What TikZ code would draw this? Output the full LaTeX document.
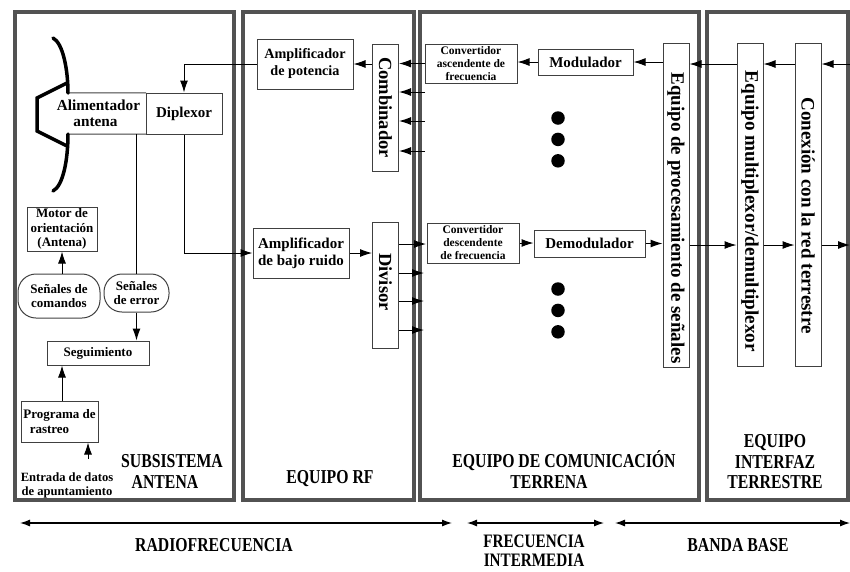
\documentclass[tikz,border=0pt]{standalone}
\usepackage{fontspec}
\setmainfont{Liberation Serif}
\newfontfamily\headfont[FakeStretch=0.8]{Liberation Serif}
\usepackage{tikz}
\usetikzlibrary{positioning, calc, arrows.meta}
\tikzstyle{Arrow} = [
    line width = 1pt,
    -{Latex[length=12pt, width=8pt]}
]
\tikzstyle{Wire} = [
    line width = 1pt
]
\tikzstyle{Span} = [
    line width = 1.2pt,
    {Latex[length=10pt, width=7pt]}-{Latex[length=10pt, width=7pt]}
]

\begin{document}
\begin{tikzpicture}[
x = 1pt, y = -1pt,
frame/.style = {draw = black!68, line width = 4pt},
block/.style = {draw = black!75, line width = 1pt, align = center, inner sep = 0pt, font = \bfseries\fontsize{15}{17}\selectfont},
small/.style = {block, font = \bfseries\fontsize{13}{14.5}\selectfont},
conv/.style = {block, font = \bfseries\fontsize{11.5}{13}\selectfont},
tall/.style = {block, minimum width = 26pt, font = \bfseries\fontsize{18.5}{20}\selectfont},
pill/.style = {small, rounded corners = 18pt},
title/.style = {align = center, inner sep = 0pt, font = \headfont\bfseries\fontsize{19.7}{20.5}\selectfont}, 
dot/.style = {circle, fill = black, minimum size = 13.5pt, inner sep = 0pt}
]
\useasboundingbox (0,0) rectangle (850,571);

% Frames
\draw[frame] (15,12) rectangle (234,500);
\draw[frame] (243,12) rectangle (414,500);
\draw[frame] (420,12) rectangle (699,500);
\draw[frame] (707,12) rectangle (848,500);

% Antenna
\node [align = center, inner sep = 0pt, minimum width = 95pt, minimum height = 41pt, font = \bfseries\fontsize{15.3}{16}\selectfont] (feed) at (98.5,113.5) {Alimentador\\antena\hspace*{6pt}};
\node [block, minimum width = 76pt, minimum height = 41pt] (diplexor) at (184,113.5) {Diplexor};
\coordinate (rimt) at (68,93);
\coordinate (rimb) at (68,134);
\draw[Wire, draw = black!75] (rimt) -- (feed.north east);
\draw[Wire, draw = black!75] (rimb) -- (feed.south east);
\draw[line width = 3.5pt, line cap = round] (53,38) .. controls (63,43) and (68,70) .. (rimt);
\draw[line width = 3.5pt, line cap = round] (rimb) .. controls (68,160) and (63,186) .. (53,191);
\draw[line width = 3.5pt, line join = miter] (67,83) -- (37,98) -- (37,131) -- (67,146);

\node [small, minimum width = 70pt, minimum height = 44pt] (motor) at (62,229) {Motor de\\orientación\\(Antena)};
\node [pill, minimum width = 82pt, minimum height = 44pt] (comandos) at (59,296) {Señales de\\comandos};
\node [pill, minimum width = 65pt, minimum height = 38pt] (error) at (136.5,293) {Señales\\de error};
\node [small, minimum width = 102pt, minimum height = 24pt] (seguimiento) at (98,353) {Seguimiento};
\node [small, minimum width = 77pt, minimum height = 41pt] (programa) at (59.5,421.5) {Programa de\\rastreo\hspace*{20pt}};
\node [align = center, inner sep = 0pt, font = \bfseries\fontsize{12.6}{14}\selectfont] (entrada) at (67,485) {Entrada de datos\\de apuntamiento};
\coordinate (pointing) at (88,459);
\node [title] (antena) at (172,471.5) {SUBSISTEMA\\ANTENA\hspace*{14pt}};

% RF equipment
\node [block, minimum width = 96pt, minimum height = 50pt, font = \bfseries\fontsize{14.2}{17}\selectfont] (potencia) at (305,64) {Amplificador\\de potencia};
\node [tall, minimum height = 127pt] (combinador) at (385.5,107.5) {\rotatebox{-90}{Combinador}};
\node [block, minimum width = 96pt, minimum height = 50pt] (ruido) at (301,253) {Amplificador\\de bajo ruido};
\node [tall, minimum height = 126pt] (divisor) at (385.5,285) {\rotatebox{-90}{Divisor\hspace*{6pt}}};
\node [title] (rf) at (330,479) {EQUIPO RF};

% Communication equipment
\node [conv, minimum width = 92pt, minimum height = 39pt] (ascendente) at (471,63.5) {Convertidor\\ascendente de\\frecuencia};
\node [block, minimum width = 95pt, minimum height = 26pt] (modulador) at (585.5,62) {Modulador};
\node [conv, minimum width = 92pt, minimum height = 40pt] (descendente) at (473,243) {Convertidor\\descendente\\de frecuencia};
\node [block, minimum width = 111pt, minimum height = 27pt] (demodulador) at (589.5,243.5) {Demodulador};
\node [tall, minimum height = 324pt, font = \bfseries\fontsize{19}{20}\selectfont] (proceso) at (676,205) {\rotatebox{-90}{\hspace*{26pt}Equipo de procesamiento de señales}};
\node [title] (comunicacion) at (564,469.5) {EQUIPO DE COMUNICACIÓN\\TERRENA\hspace*{30pt}};

\node [dot] (d1) at (558,118) {};
\node [dot, below = 7.5pt of d1] (d2) {};
\node [dot, below = 7.5pt of d2] (d3) {};
\node [dot] (d4) at (558,289) {};
\node [dot, below = 7.5pt of d4] (d5) {};
\node [dot, below = 7.5pt of d5] (d6) {};

% Terrestrial interface
\node [tall, minimum height = 323pt, font = \bfseries\fontsize{19.2}{20}\selectfont] (multiplexor) at (750,204.5) {\rotatebox{-90}{\hspace*{14pt}Equipo multiplexor/demultiplexor}};
\node [tall, minimum height = 323pt, font = \bfseries\fontsize{19}{20}\selectfont] (conexion) at (808,204.5) {\rotatebox{-90}{\hspace*{22pt}Conexión con la red terrestre}};
\node [title] (interfaz) at (775,462) {EQUIPO\\INTERFAZ\\TERRESTRE};
\coordinate (txin) at (850,64);
\coordinate (rxout) at (850,245);

% Free ends
\coordinate (c2) at (425,92);
\coordinate (c3) at (425,121);
\coordinate (c4) at (425,151);
\coordinate (s1) at (426,244);
\coordinate (s2) at (424,273);
\coordinate (s3) at (424,301);
\coordinate (s4) at (424,330);

% Uplink
\draw[Arrow] (txin) -- (conexion.east |- txin);
\draw[Arrow] (conexion.west |- txin) -- (multiplexor.east |- txin);
\draw[Arrow] (multiplexor.west |- txin) -- (proceso.east |- txin);
\draw[Arrow] (proceso.west |- modulador.east) -- (modulador.east);
\draw[Arrow] (modulador.west) -- (ascendente.east |- modulador.west);
\draw[Arrow] (ascendente.west) -- (combinador.east |- ascendente.west);
\draw[Arrow] (c2) -- (combinador.east |- c2);
\draw[Arrow] (c3) -- (combinador.east |- c3);
\draw[Arrow] (c4) -- (combinador.east |- c4);
\draw[Arrow] (combinador.west |- potencia.east) -- (potencia.east);
\draw[Arrow] (potencia.west) -| (diplexor.north);

% Downlink
\draw[Arrow] (diplexor.south) |- (ruido.west);
\draw[Arrow] (ruido.east) -- (divisor.west |- ruido.east);
\draw[Arrow] (divisor.east |- s1) -- (s1);
\draw[Arrow] (divisor.east |- s2) -- (s2);
\draw[Arrow] (divisor.east |- s3) -- (s3);
\draw[Arrow] (divisor.east |- s4) -- (s4);
\draw[Arrow] (descendente.east) -- (demodulador.west |- descendente.east);
\draw[Arrow] (demodulador.east) -- (proceso.west |- demodulador.east);
\draw[Arrow] (proceso.east |- rxout) -- (multiplexor.west |- rxout);
\draw[Arrow] (multiplexor.east |- rxout) -- (conexion.west |- rxout);
\draw[Arrow] (conexion.east |- rxout) -- (rxout);

% Tracking
\draw[Wire] (error.north |- feed.south) -- (error.north);
\draw[Arrow] (error.south) -- (error.south |- seguimiento.north);
\draw[Arrow] (motor.south |- comandos.north) -- (motor.south);
\draw[Arrow] (motor.south |- programa.north) -- (motor.south |- seguimiento.south);
\draw[Arrow] (pointing) -- (pointing |- programa.south);

% Bands
\coordinate (r1) at (20,523);
\coordinate (r2) at (452,523);
\coordinate (i1) at (467,523);
\coordinate (i2) at (604,523);
\coordinate (b1) at (615,523);
\coordinate (b2) at (850,523);
\draw[Span] (r1) -- (r2);
\draw[Span] (i1) -- (i2);
\draw[Span] (b1) -- (b2);
\node [title] (radio) at (214,545) {RADIOFRECUENCIA};
\node [title, font = \headfont\bfseries\fontsize{19}{19.5}\selectfont] (intermedia) at (534,550.5) {FRECUENCIA\\INTERMEDIA};
\node [title] (base) at (738,545) {BANDA BASE};

\end{tikzpicture}
\end{document}
